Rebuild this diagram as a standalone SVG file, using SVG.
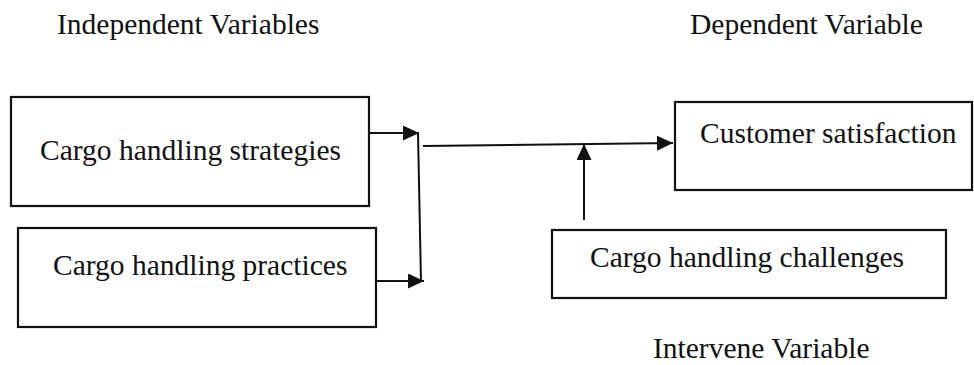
<svg xmlns="http://www.w3.org/2000/svg" width="974" height="365" viewBox="0 0 974 365">
<defs>
<style>
.box{fill:#fff;stroke:#111;stroke-width:2.2}
.t{font-family:"Liberation Serif","Times New Roman",serif;fill:#111}
.h{font-size:29.5px}
.b{font-size:29.5px}
.c{stroke:#111;stroke-width:2;fill:none}
</style>
<marker id="ah" viewBox="0 0 10 10" refX="10" refY="5" markerWidth="16" markerHeight="15" markerUnits="userSpaceOnUse" orient="auto" preserveAspectRatio="none">
<path d="M0,0 L10,5 L0,10 z" fill="#111"/>
</marker>
</defs>
<rect width="974" height="365" fill="#fff"/>
<g id="labels">
<text class="t h" x="57" y="34">Independent Variables</text>
<text class="t h" x="690" y="34">Dependent Variable</text>
<text class="t h" x="653" y="358">Intervene Variable</text>
</g>
<g id="n1"><rect class="box" x="11" y="97" width="358" height="109"/><text class="t b" x="40" y="160">Cargo handling strategies</text></g>
<g id="n2"><rect class="box" x="18" y="228" width="358" height="99"/><text class="t b" x="53" y="275">Cargo handling practices</text></g>
<g id="n3"><rect class="box" x="675" y="102" width="297" height="88"/><text class="t b" x="700" y="143">Customer satisfaction</text></g>
<g id="n4"><rect class="box" x="552" y="230" width="394" height="68"/><text class="t b" x="590" y="267">Cargo handling challenges</text></g>
<g id="connectors">
<line class="c" x1="369" y1="133" x2="419" y2="133" marker-end="url(#ah)"/>
<line class="c" x1="376" y1="281" x2="424" y2="281" marker-end="url(#ah)"/>
<line class="c" x1="418" y1="133" x2="421" y2="282" stroke-width="1.5"/>
<line class="c" x1="423" y1="146" x2="673" y2="143" marker-end="url(#ah)"/>
<line class="c" x1="584" y1="220" x2="584" y2="144" marker-end="url(#ah)"/>
</g>
</svg>
